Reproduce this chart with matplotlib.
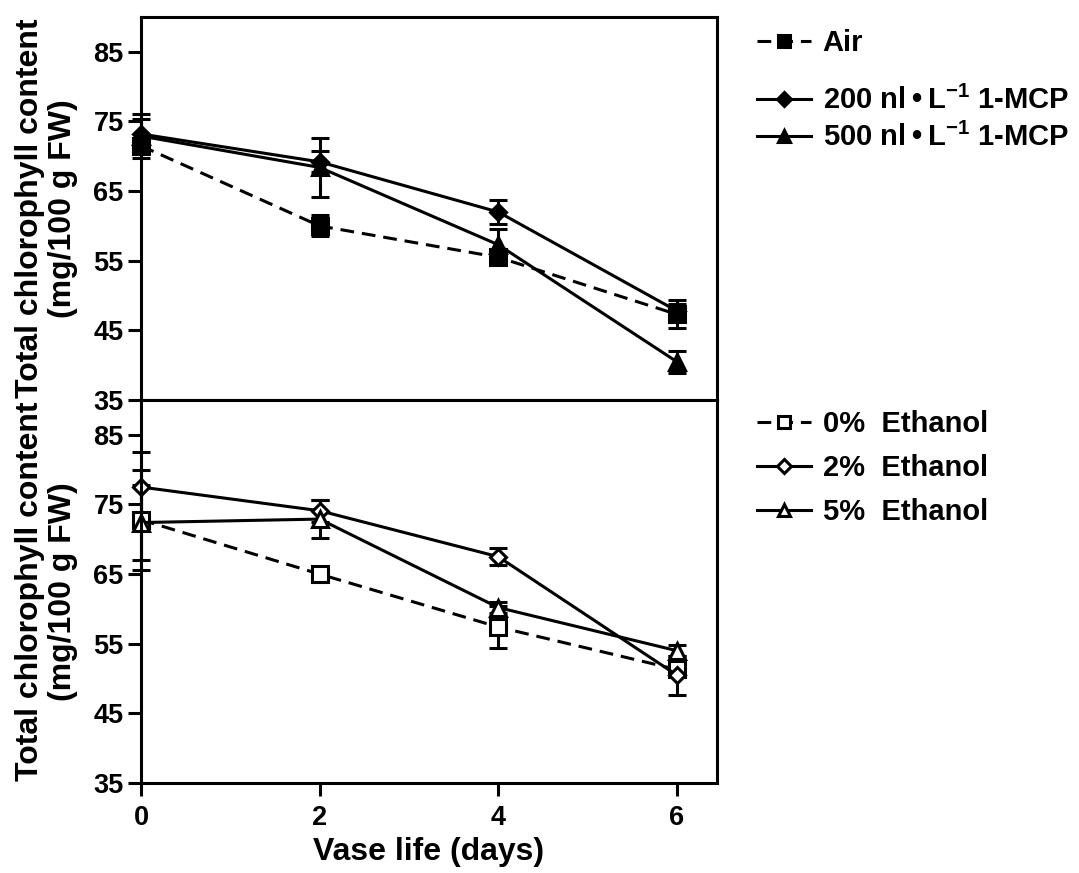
import matplotlib
matplotlib.use("Agg")
import matplotlib.pyplot as plt

plt.rcParams['font.family'] = ['Liberation Sans', 'DejaVu Sans']
plt.rcParams['font.weight'] = 'bold'
plt.rcParams['mathtext.fontset'] = 'custom'
plt.rcParams['mathtext.rm'] = 'Liberation Sans:bold'
plt.rcParams['mathtext.it'] = 'Liberation Sans:bold'
plt.rcParams['mathtext.bf'] = 'Liberation Sans:bold'

# Donnees
days = [0, 2, 4, 6]

air = [71.5, 60.0, 55.5, 47.3]
air_err = [1.0, 1.5, 1.0, 2.0]
mcp200 = [73.2, 69.2, 62.0, 47.8]
mcp200_err = [2.2, 1.5, 1.7, 1.0]
mcp500 = [72.9, 68.4, 57.3, 40.5]
mcp500_err = [3.2, 4.2, 2.2, 1.6]

eth0 = [72.8, 65.0, 57.4, 51.3]
eth0_err = [7.2, 0.5, 3.0, 1.0]
eth2 = [77.5, 74.1, 67.5, 50.5]
eth2_err = [5.0, 1.6, 1.2, 2.8]
eth5 = [72.4, 72.9, 60.2, 54.0]
eth5_err = [5.4, 2.7, 0.8, 0.8]

top_labels = ['Air', '200 nl\u2009•\u2009L$^{-1}$ 1-MCP', '500 nl\u2009•\u2009L$^{-1}$ 1-MCP']
bottom_labels = ['0%  Ethanol', '2%  Ethanol', '5%  Ethanol']
yticks = [35, 45, 55, 65, 75, 85]

W, H = 1079, 873
fig = plt.figure(figsize=(W / 100, H / 100), dpi=100)

left, right = 141 / W, 717 / W
ax1 = fig.add_axes([left, 1 - 400 / H, right - left, (400 - 17) / H])
ax2 = fig.add_axes([left, 1 - 783 / H, right - left, (783 - 400) / H])

lw = 2.2
dash = (0, (4.5, 2.6))


def serie(ax, y, err, marker, face, ls):
    h = ax.errorbar(days, y, yerr=err, color='black', ls=ls, lw=lw,
                    marker=marker, ms=11 if marker != 'D' else 8,
                    mfc=face, mec='black', mew=2.2,
                    capsize=6.5, capthick=2.2, elinewidth=2.2,
                    clip_on=False)
    for part in h.lines[1] + h.lines[2]:
        part.set_clip_on(False)
    return h.lines[0]


h_air = serie(ax1, air, air_err, 's', 'black', dash)
h_200 = serie(ax1, mcp200, mcp200_err, 'D', 'black', '-')
h_500 = serie(ax1, mcp500, mcp500_err, '^', 'black', '-')

h_e0 = serie(ax2, eth0, eth0_err, 's', 'white', dash)
h_e2 = serie(ax2, eth2, eth2_err, 'D', 'white', '-')
h_e5 = serie(ax2, eth5, eth5_err, '^', 'white', '-')

for ax in (ax1, ax2):
    ax.set_xlim(0, 6.45)
    ax.set_ylim(35, 90)
    ax.set_xticks(days)
    ax.set_yticks(yticks)
    for s in ax.spines.values():
        s.set_linewidth(lw)
    ax.tick_params(direction='out', length=9.5, width=lw, labelsize=19.5, pad=3)
    ax.set_ylabel('Total chlorophyll content\n(mg/100 g FW)', fontsize=23,
                  fontweight='bold', linespacing=1.15)
    ax.yaxis.set_label_coords(-0.109, 0.5)

ax1.tick_params(axis='x', labelbottom=False)
ax2.tick_params(axis='x', pad=6)
ax2.set_xlabel('Vase life (days)', fontsize=23, fontweight='bold', labelpad=5)

leg_kw = dict(frameon=False, fontsize=21, handlelength=1.85, handletextpad=0.4,
              borderpad=0, borderaxespad=0, loc='center left', markerscale=0.85)
l1 = fig.legend([h_air], top_labels[:1],
                bbox_to_anchor=(757 / W, 1 - 43 / H), **leg_kw)
l2 = fig.legend([h_200, h_500], top_labels[1:],
                bbox_to_anchor=(757 / W, 1 - 119 / H), labelspacing=0.28, **leg_kw)
l3 = fig.legend([h_e0, h_e2, h_e5], bottom_labels,
                bbox_to_anchor=(757 / W, 1 - 468 / H), labelspacing=0.55, **leg_kw)

fig.savefig('out.png', dpi=100)
